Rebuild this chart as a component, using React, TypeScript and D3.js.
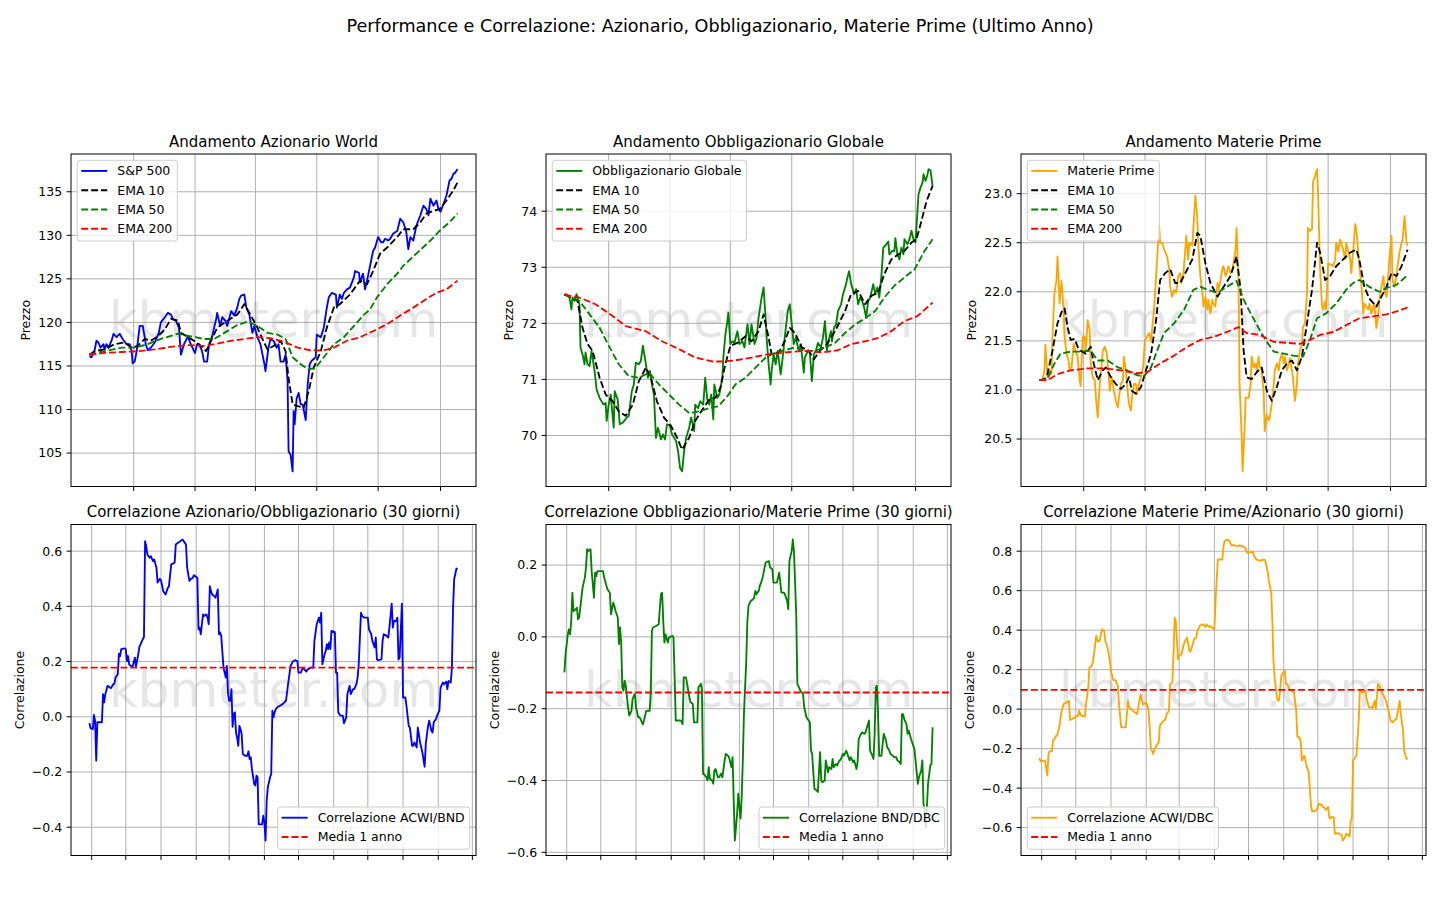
import * as d3 from "d3";

const FONT = "'DejaVu Sans', sans-serif";
const parse = d3.timeParse("%Y-%m-%d");

const PRICE_START = "2023-09-18";
const CORR_START = "2023-10-30";

// [days since start, value]
const sp500: [number, number][] = [
  [0,116.1],[2,116.0],[5,116.7],[7,117.9],[9,117.7],[11,117.1],[14,117.5],[15,116.9],[17,117.5],[19,117.1],[22,117.9],[24,118.7],[27,118.3],[30,118.7],[33,118.1],[37,117.5],[40,117.5],[42,116.7],[43,115.3],[45,115.5],[47,116.7],[50,119.6],[53,119.6],[55,118.3],[56,117.5],[58,116.8],[61,117.1],[65,117.7],[69,118.8],[71,120.0],[75,120.6],[78,121.1],[81,120.9],[83,120.4],[86,120.2],[89,119.4],[91,116.3],[94,117.5],[98,118.4],[100,117.7],[104,116.7],[105,116.5],[107,117.5],[109,117.5],[112,116.7],[114,115.5],[117,115.5],[119,117.5],[122,118.4],[126,120.4],[127,121.1],[130,119.6],[132,120.6],[135,120.2],[137,119.6],[141,121.3],[144,120.8],[147,121.7],[149,122.7],[151,123.1],[154,123.2],[156,121.7],[159,120.9],[162,118.8],[164,119.6],[167,118.3],[170,117.5],[174,115.2],[175,114.4],[178,117.1],[180,118.1],[183,117.9],[186,117.1],[188,117.5],[190,115.5],[193,115.5],[195,116.3],[197,113.3],[198,105.2],[200,104.8],[202,102.9],[203,109.8],[204,108.3],[206,111.3],[208,111.9],[210,110.6],[212,110.6],[215,108.8],[217,112.9],[219,115.2],[221,115.6],[225,116.0],[226,118.6],[230,118.3],[233,119.4],[236,121.7],[238,122.9],[241,123.4],[245,123.2],[246,121.7],[249,123.2],[251,122.7],[253,123.4],[256,123.8],[259,124.0],[263,125.2],[264,125.9],[268,125.7],[269,124.6],[272,125.6],[274,123.8],[276,124.8],[279,126.5],[282,128.2],[284,128.6],[287,129.8],[290,129.2],[292,129.2],[294,129.6],[297,129.4],[299,129.6],[302,130.2],[306,130.5],[309,131.9],[312,131.5],[315,130.4],[317,128.4],[319,129.8],[322,129.4],[325,131.1],[329,132.3],[332,133.4],[335,133.0],[337,132.3],[339,134.2],[342,133.4],[345,134.0],[347,133.0],[349,132.7],[352,133.6],[355,134.6],[358,136.3],[360,136.5],[362,137.1],[363,137.1],[366,137.6],
];
const spEma10: [number, number][] = [
  [0,116.3],[5,116.7],[15,116.9],[25,117.5],[35,117.7],[42,117.1],[48,117.3],[55,118.1],[61,117.9],[68,118.4],[75,119.2],[81,120.4],[88,120.2],[91,118.8],[98,118.3],[104,117.9],[111,117.3],[116,116.7],[121,117.9],[127,119.4],[137,120.2],[147,120.9],[154,122.1],[160,120.9],[167,119.4],[172,118.1],[177,116.9],[183,117.3],[190,117.9],[195,116.7],[198,113.6],[202,110.6],[207,110.4],[213,110.2],[218,112.1],[223,114.8],[230,116.7],[236,119.4],[243,121.7],[249,122.1],[259,123.2],[269,124.8],[276,124.4],[282,125.9],[289,127.9],[296,128.6],[306,129.8],[312,130.7],[322,130.7],[329,131.5],[335,132.5],[342,132.8],[348,133.0],[355,134.0],[362,135.2],[366,136.1],
];
const spEma50: [number, number][] = [
  [0,116.3],[15,116.7],[32,117.1],[45,117.1],[58,117.5],[71,118.1],[88,118.7],[101,118.4],[114,118.1],[124,118.1],[137,119.0],[147,119.7],[157,120.1],[167,119.6],[177,118.8],[187,118.6],[195,118.1],[202,116.0],[210,115.2],[218,114.6],[225,114.8],[233,116.0],[243,117.5],[253,118.3],[263,119.6],[273,120.9],[279,121.5],[286,122.9],[296,124.4],[306,125.6],[312,126.5],[325,127.9],[339,129.4],[348,130.5],[358,131.5],[366,132.5],
];
const spEma200: [number, number][] = [
  [0,116.3],[15,116.5],[32,116.6],[48,116.7],[65,116.9],[81,117.2],[98,117.4],[114,117.3],[124,117.5],[141,117.9],[154,118.1],[167,118.3],[180,118.2],[193,117.8],[207,117.1],[220,116.8],[233,116.8],[243,117.1],[256,117.9],[269,118.3],[282,119.0],[296,119.8],[309,120.8],[322,121.7],[335,122.7],[345,123.4],[355,123.8],[366,124.8],
];

const bond: [number, number][] = [
  [0,72.51],[2,72.52],[5,72.46],[7,72.25],[8,72.46],[10,72.40],[12,72.52],[13,72.46],[15,72.34],[16,71.57],[18,71.45],[20,71.27],[21,71.48],[23,71.27],[25,71.24],[27,71.51],[30,71.15],[32,70.82],[35,70.67],[36,70.64],[39,70.55],[41,70.58],[42,70.26],[44,70.55],[46,70.73],[49,70.14],[50,70.79],[53,70.64],[55,70.20],[58,70.23],[62,70.32],[64,70.35],[67,70.79],[69,70.91],[71,71.30],[74,71.27],[76,71.33],[78,71.60],[80,71.39],[83,71.03],[85,71.15],[87,70.91],[89,70.73],[91,69.96],[93,70.14],[96,69.93],[98,70.02],[100,69.93],[102,70.20],[105,70.17],[107,70.02],[109,69.96],[111,69.90],[113,69.72],[115,69.42],[117,69.36],[119,69.72],[121,69.96],[124,70.14],[126,70.32],[129,70.08],[130,70.55],[133,70.49],[135,70.61],[138,70.55],[140,71.03],[142,70.64],[144,70.55],[146,70.73],[148,70.29],[149,70.91],[152,70.67],[154,70.73],[157,71.03],[158,71.39],[160,71.80],[162,72.04],[163,72.19],[165,71.63],[167,71.68],[169,71.65],[172,71.86],[174,71.63],[177,71.68],[179,71.57],[182,71.98],[184,71.63],[186,71.98],[189,71.63],[191,71.74],[193,72.10],[195,72.34],[196,72.46],[198,72.64],[200,72.10],[201,71.74],[203,71.27],[205,70.91],[206,71.15],[208,71.45],[210,71.27],[212,71.51],[215,71.09],[217,71.39],[219,71.74],[222,72.22],[224,72.34],[226,71.98],[228,71.63],[230,71.74],[233,71.51],[235,71.63],[238,71.12],[239,71.39],[242,71.51],[244,71.48],[246,70.97],[248,71.45],[250,71.51],[252,71.65],[255,71.57],[257,71.74],[259,72.04],[261,71.51],[262,71.65],[265,71.86],[266,71.68],[268,71.92],[270,71.98],[272,72.22],[275,72.34],[277,72.52],[280,72.70],[281,72.79],[283,72.93],[285,72.70],[288,72.52],[290,72.61],[292,72.34],[294,72.46],[296,72.40],[298,72.28],[300,72.10],[302,72.40],[304,72.46],[307,72.70],[309,72.52],[311,72.64],[313,72.46],[315,72.82],[317,73.35],[320,73.41],[322,73.46],[323,73.23],[326,73.29],[328,73.29],[329,73.52],[331,73.23],[333,73.14],[335,73.35],[337,73.23],[338,73.50],[341,73.41],[343,73.50],[345,73.65],[347,73.50],[349,73.44],[351,74.01],[352,74.30],[354,74.42],[356,74.51],[357,74.66],[359,74.54],[361,74.66],[362,74.75],[364,74.72],[366,74.45],
];
const bondEma10: [number, number][] = [
  [0,72.51],[8,72.46],[13,72.40],[18,71.92],[23,71.63],[28,71.51],[35,71.03],[41,70.73],[48,70.61],[54,70.43],[61,70.35],[68,70.55],[74,70.97],[81,71.21],[86,71.03],[92,70.61],[99,70.32],[106,70.17],[112,69.96],[117,69.75],[124,69.96],[130,70.26],[137,70.46],[144,70.64],[150,70.67],[155,70.85],[160,71.27],[165,71.60],[172,71.65],[180,71.77],[186,71.68],[193,71.86],[198,72.16],[203,71.74],[206,71.45],[213,71.48],[219,71.68],[224,71.92],[229,71.83],[236,71.57],[243,71.51],[248,71.36],[254,71.51],[261,71.63],[269,71.86],[279,72.22],[285,72.52],[292,72.58],[299,72.34],[305,72.49],[312,72.55],[318,72.88],[325,73.14],[332,73.23],[338,73.29],[345,73.44],[350,73.50],[355,73.83],[360,74.18],[366,74.45],
];
const bondEma50: [number, number][] = [
  [0,72.51],[15,72.40],[25,72.16],[35,71.92],[45,71.57],[54,71.27],[64,71.06],[74,71.03],[84,71.12],[94,70.91],[104,70.73],[114,70.55],[124,70.40],[134,70.43],[144,70.49],[153,70.52],[162,70.70],[170,70.91],[180,71.03],[190,71.21],[200,71.39],[210,71.48],[219,71.52],[229,71.57],[239,71.51],[249,71.51],[259,71.57],[269,71.65],[279,71.83],[289,71.98],[299,72.09],[309,72.22],[318,72.46],[328,72.67],[338,72.82],[348,72.96],[358,73.29],[366,73.50],
];
const bondEma200: [number, number][] = [
  [0,72.51],[15,72.46],[31,72.34],[48,72.13],[61,71.95],[81,71.86],[97,71.68],[114,71.54],[130,71.39],[147,71.32],[157,71.32],[170,71.34],[186,71.39],[203,71.45],[219,71.48],[239,71.51],[256,71.48],[272,71.52],[285,71.63],[299,71.68],[312,71.74],[325,71.86],[338,72.04],[351,72.13],[366,72.37],
];

const cmd: [number, number][] = [
  [0,21.10],[3,21.10],[5,21.20],[6,21.46],[8,21.13],[10,21.20],[12,21.16],[13,21.54],[15,21.99],[17,22.12],[18,22.36],[19,22.16],[20,21.88],[22,22.11],[24,21.82],[25,21.54],[27,21.37],[29,21.30],[30,21.20],[32,21.23],[34,21.47],[36,21.40],[38,21.34],[40,21.10],[41,21.04],[43,21.54],[45,21.54],[46,21.40],[48,21.71],[50,21.61],[51,21.27],[53,21.13],[55,21.10],[57,20.82],[58,20.72],[60,21.06],[62,21.27],[63,21.40],[65,21.44],[67,21.37],[69,21.13],[70,20.99],[72,21.13],[74,20.99],[76,20.89],[78,20.82],[79,20.92],[81,21.06],[83,21.10],[84,21.34],[86,21.20],[87,21.06],[89,20.86],[91,20.79],[92,20.92],[94,21.06],[96,21.06],[97,20.96],[99,21.06],[101,21.13],[103,21.23],[105,21.51],[107,21.54],[109,21.58],[111,21.49],[112,21.61],[114,21.82],[116,22.16],[117,22.33],[119,22.67],[120,22.50],[122,22.50],[124,22.43],[127,22.36],[129,22.23],[130,22.05],[132,21.95],[134,22.02],[136,21.99],[138,22.16],[140,22.19],[141,22.09],[143,22.16],[144,22.29],[146,22.57],[148,22.33],[149,22.50],[152,22.47],[153,22.64],[155,22.98],[157,22.74],[158,22.47],[160,22.16],[162,21.99],[163,21.85],[165,21.95],[167,21.82],[168,21.92],[170,21.78],[172,21.92],[173,21.88],[175,21.85],[177,22.09],[178,22.02],[180,22.12],[182,22.24],[183,22.26],[185,22.16],[188,22.26],[190,22.19],[192,22.23],[195,22.43],[196,22.65],[198,22.09],[199,21.06],[201,20.55],[202,20.17],[204,20.62],[205,20.92],[208,20.92],[210,21.06],[211,21.34],[213,21.23],[215,21.27],[216,21.20],[218,21.34],[219,21.23],[221,21.20],[223,20.96],[224,20.58],[226,20.75],[228,20.69],[229,20.72],[231,20.86],[233,21.06],[234,21.20],[236,21.27],[238,21.20],[239,21.30],[241,21.37],[243,21.27],[244,21.34],[246,21.20],[248,21.27],[249,21.32],[251,21.20],[252,21.13],[254,20.89],[256,21.06],[257,21.27],[259,21.40],[261,21.47],[262,21.64],[264,21.68],[266,21.99],[267,22.65],[269,22.62],[271,22.64],[272,23.12],[274,23.18],[276,23.25],[277,23.01],[279,22.23],[281,21.85],[282,21.82],[284,21.90],[285,21.82],[287,22.29],[289,22.28],[290,22.28],[292,22.26],[294,22.33],[295,22.50],[297,22.41],[299,22.53],[300,22.50],[302,22.43],[304,22.33],[305,22.50],[307,22.41],[309,22.33],[310,22.19],[312,22.43],[314,22.69],[315,22.64],[317,22.40],[318,22.26],[320,22.09],[322,21.78],[323,21.88],[325,21.85],[327,21.82],[328,21.88],[330,21.78],[332,21.85],[333,21.88],[335,21.63],[337,21.78],[338,21.92],[340,22.05],[342,22.16],[343,22.02],[345,21.95],[347,22.19],[348,22.36],[350,22.57],[351,22.12],[353,22.05],[355,22.16],[356,22.26],[358,22.40],[360,22.50],[361,22.53],[363,22.77],[365,22.50],[366,22.47],
];
const cmdEma10: [number, number][] = [
  [0,21.10],[5,21.11],[8,21.16],[13,21.40],[18,21.68],[23,21.82],[25,21.83],[28,21.64],[31,21.51],[35,21.52],[38,21.44],[41,21.40],[46,21.37],[51,21.44],[54,21.27],[58,21.10],[63,21.20],[66,21.23],[71,21.13],[76,21.06],[81,21.01],[86,21.06],[89,21.13],[92,20.99],[96,20.96],[101,21.03],[106,21.20],[111,21.37],[116,21.71],[120,22.12],[125,22.19],[130,22.23],[135,22.09],[140,22.09],[147,22.23],[152,22.33],[157,22.60],[160,22.57],[165,22.29],[170,22.09],[177,21.95],[183,22.05],[190,22.16],[196,22.36],[200,22.02],[203,21.40],[206,21.13],[211,21.11],[216,21.18],[221,21.23],[226,20.99],[231,20.89],[236,21.03],[241,21.20],[246,21.27],[251,21.30],[256,21.20],[261,21.34],[266,21.68],[271,22.02],[276,22.50],[279,22.40],[284,22.12],[289,22.16],[295,22.26],[302,22.33],[309,22.40],[315,22.43],[318,22.33],[323,22.05],[328,21.93],[335,21.85],[340,21.95],[345,22.05],[350,22.19],[355,22.16],[360,22.26],[366,22.43],
];
const cmdEma50: [number, number][] = [
  [0,21.10],[8,21.11],[15,21.27],[21,21.37],[31,21.39],[41,21.39],[51,21.40],[58,21.30],[68,21.30],[78,21.23],[87,21.20],[97,21.15],[104,21.14],[111,21.23],[117,21.40],[124,21.58],[134,21.68],[144,21.82],[153,22.02],[160,22.05],[167,22.02],[177,21.99],[186,22.05],[196,22.11],[203,21.92],[210,21.78],[219,21.61],[226,21.49],[233,21.39],[243,21.37],[252,21.35],[262,21.34],[269,21.51],[276,21.73],[285,21.78],[295,21.88],[305,22.02],[312,22.09],[318,22.12],[328,22.05],[338,22.00],[345,22.04],[355,22.07],[366,22.17],
];
const cmdEma200: [number, number][] = [
  [0,21.10],[8,21.10],[18,21.16],[31,21.20],[48,21.22],[64,21.22],[81,21.20],[97,21.17],[107,21.18],[120,21.27],[134,21.35],[147,21.44],[160,21.51],[173,21.54],[186,21.59],[198,21.64],[206,21.58],[219,21.56],[233,21.49],[246,21.48],[259,21.47],[269,21.51],[279,21.56],[292,21.59],[305,21.66],[318,21.73],[332,21.75],[345,21.77],[355,21.80],[366,21.84],
];

// 30-day rolling correlations, [days since CORR_START, value]
const corrEqBond: [number, number][] = [
  [0,-0.023],[1,-0.041],[3,-0.045],[4,0.007],[5,-0.014],[6,-0.159],[7,-0.020],[9,-0.020],[11,-0.020],[12,0.082],[13,0.052],[14,0.082],[16,0.112],[18,0.106],[19,0.104],[21,0.118],[22,0.120],[23,0.142],[25,0.154],[26,0.229],[27,0.220],[28,0.245],[31,0.248],[32,0.245],[33,0.202],[34,0.220],[35,0.190],[37,0.182],[38,0.182],[40,0.214],[41,0.182],[43,0.227],[44,0.253],[46,0.272],[48,0.289],[49,0.636],[50,0.618],[51,0.588],[53,0.576],[54,0.582],[56,0.564],[57,0.570],[59,0.540],[60,0.486],[62,0.500],[63,0.494],[65,0.455],[66,0.449],[67,0.443],[69,0.467],[70,0.473],[72,0.552],[73,0.554],[75,0.558],[76,0.624],[78,0.630],[81,0.639],[82,0.642],[84,0.630],[85,0.624],[86,0.540],[88,0.492],[89,0.498],[91,0.504],[92,0.513],[95,0.504],[96,0.317],[97,0.323],[98,0.299],[100,0.371],[101,0.365],[103,0.371],[104,0.359],[105,0.335],[106,0.473],[107,0.455],[108,0.443],[110,0.437],[111,0.431],[113,0.461],[114,0.299],[115,0.305],[116,0.293],[118,0.178],[119,0.160],[120,0.142],[121,0.184],[122,0.082],[123,0.058],[124,0.058],[125,0.100],[126,-0.036],[127,0.010],[128,0.016],[129,-0.057],[130,-0.075],[131,-0.105],[132,-0.033],[133,-0.045],[134,-0.063],[135,-0.135],[137,-0.141],[139,-0.141],[140,-0.125],[141,-0.153],[142,-0.147],[143,-0.189],[145,-0.243],[146,-0.249],[147,-0.213],[148,-0.219],[149,-0.390],[150,-0.390],[152,-0.390],[153,-0.358],[154,-0.382],[155,-0.448],[156,-0.304],[157,-0.255],[159,-0.219],[160,-0.207],[161,0.022],[162,-0.002],[163,0.016],[164,0.028],[166,0.037],[168,0.040],[170,0.046],[173,0.058],[175,0.124],[176,0.154],[177,0.184],[179,0.200],[181,0.205],[183,0.202],[184,0.160],[186,0.160],[188,0.178],[189,0.172],[191,0.164],[192,0.172],[195,0.178],[197,0.178],[198,0.275],[200,0.335],[202,0.359],[203,0.341],[204,0.377],[205,0.190],[207,0.227],[208,0.239],[209,0.263],[210,0.245],[211,0.269],[212,0.245],[213,0.311],[216,0.307],[217,0.160],[218,0.160],[219,0.016],[221,0.004],[223,0.004],[224,-0.024],[226,-0.002],[227,0.082],[229,0.112],[230,0.082],[232,0.100],[233,0.100],[235,0.118],[236,0.142],[237,0.190],[239,0.377],[240,0.365],[242,0.359],[245,0.359],[246,0.317],[248,0.299],[249,0.275],[251,0.251],[252,0.287],[253,0.208],[254,0.205],[257,0.208],[258,0.275],[259,0.299],[261,0.295],[263,0.287],[264,0.323],[266,0.410],[267,0.323],[268,0.347],[270,0.347],[271,0.359],[272,0.208],[273,0.214],[275,0.410],[276,0.070],[278,0.070],[279,0.040],[281,-0.033],[282,-0.039],[284,-0.105],[285,-0.105],[286,-0.093],[288,-0.111],[289,-0.039],[291,-0.093],[293,-0.129],[295,-0.181],[296,-0.099],[298,-0.033],[299,-0.014],[301,-0.051],[302,-0.057],[303,-0.020],[305,-0.008],[306,0.004],[308,0.022],[309,0.106],[311,0.124],[312,0.118],[314,0.127],[315,0.100],[316,0.130],[318,0.124],[319,0.178],[320,0.395],[321,0.498],[323,0.537],[324,0.534],
];
const corrBondCmd: [number, number][] = [
  [0,-0.099],[1,-0.048],[3,0.007],[4,0.021],[5,0.007],[6,0.044],[7,0.123],[8,0.072],[10,0.077],[11,0.081],[12,0.049],[13,0.054],[15,0.109],[16,0.137],[18,0.165],[19,0.193],[20,0.244],[21,0.239],[23,0.244],[24,0.183],[26,0.109],[27,0.179],[28,0.169],[29,0.183],[32,0.183],[34,0.183],[35,0.165],[37,0.142],[38,0.132],[40,0.123],[41,0.063],[43,0.095],[44,0.086],[45,0.072],[47,0.054],[48,-0.020],[49,0.026],[50,-0.020],[51,-0.141],[52,-0.150],[53,-0.122],[54,-0.136],[56,-0.196],[57,-0.219],[59,-0.206],[60,-0.173],[62,-0.159],[63,-0.196],[65,-0.224],[66,-0.224],[67,-0.229],[69,-0.244],[70,-0.233],[72,-0.206],[73,-0.206],[75,-0.206],[76,-0.159],[77,0.017],[78,0.026],[81,0.031],[83,0.035],[84,0.081],[85,0.119],[86,0.123],[87,0.044],[88,-0.016],[89,0.007],[91,-0.016],[92,-0.002],[95,0.003],[96,-0.002],[97,-0.113],[98,-0.233],[100,-0.233],[102,-0.233],[103,-0.235],[104,-0.243],[105,-0.113],[107,-0.113],[108,-0.131],[110,-0.169],[111,-0.182],[113,-0.187],[114,-0.238],[116,-0.238],[117,-0.238],[118,-0.141],[120,-0.131],[121,-0.141],[122,-0.381],[123,-0.383],[125,-0.391],[126,-0.400],[127,-0.363],[128,-0.395],[130,-0.400],[131,-0.409],[132,-0.372],[133,-0.368],[135,-0.391],[136,-0.391],[138,-0.381],[139,-0.391],[141,-0.344],[142,-0.326],[144,-0.331],[145,-0.337],[147,-0.363],[148,-0.335],[149,-0.456],[150,-0.567],[151,-0.530],[152,-0.493],[153,-0.437],[155,-0.506],[156,-0.446],[157,-0.344],[158,-0.215],[160,-0.067],[161,0.044],[162,0.086],[164,0.100],[166,0.105],[167,0.109],[168,0.128],[169,0.119],[171,0.128],[172,0.142],[174,0.160],[175,0.174],[177,0.206],[178,0.209],[180,0.211],[181,0.193],[183,0.188],[184,0.151],[186,0.151],[187,0.151],[189,0.179],[190,0.151],[191,0.123],[193,0.123],[194,0.119],[196,0.100],[197,0.077],[198,0.211],[200,0.239],[201,0.271],[202,0.239],[204,0.063],[205,-0.131],[207,-0.145],[208,-0.152],[210,-0.159],[211,-0.196],[213,-0.224],[214,-0.229],[216,-0.238],[217,-0.317],[218,-0.326],[220,-0.423],[222,-0.428],[223,-0.432],[225,-0.321],[226,-0.400],[227,-0.405],[229,-0.400],[230,-0.344],[232,-0.377],[233,-0.363],[235,-0.368],[236,-0.340],[237,-0.363],[239,-0.354],[240,-0.358],[242,-0.344],[243,-0.343],[245,-0.326],[246,-0.331],[248,-0.317],[249,-0.326],[251,-0.344],[252,-0.335],[254,-0.349],[255,-0.344],[257,-0.368],[258,-0.349],[259,-0.284],[261,-0.270],[262,-0.266],[264,-0.270],[265,-0.266],[267,-0.244],[268,-0.233],[269,-0.317],[271,-0.331],[272,-0.340],[273,-0.270],[274,-0.141],[275,-0.136],[276,-0.215],[277,-0.331],[278,-0.331],[279,-0.331],[281,-0.270],[283,-0.289],[284,-0.307],[286,-0.317],[287,-0.326],[289,-0.331],[290,-0.335],[292,-0.335],[293,-0.344],[295,-0.349],[296,-0.354],[297,-0.215],[298,-0.215],[299,-0.229],[301,-0.243],[302,-0.270],[303,-0.261],[305,-0.284],[306,-0.294],[308,-0.312],[309,-0.344],[311,-0.409],[312,-0.391],[314,-0.372],[315,-0.344],[316,-0.465],[317,-0.483],[318,-0.530],[319,-0.474],[320,-0.409],[322,-0.358],[323,-0.354],[324,-0.252],
];
const corrCmdEq: [number, number][] = [
  [0,-0.247],[1,-0.264],[3,-0.261],[5,-0.264],[7,-0.336],[8,-0.227],[9,-0.213],[11,-0.213],[12,-0.160],[13,-0.151],[15,-0.134],[16,-0.126],[18,-0.075],[19,-0.025],[21,0.022],[22,0.029],[24,0.034],[26,0.042],[27,-0.055],[29,-0.050],[31,-0.042],[34,-0.033],[35,-0.008],[36,-0.025],[37,-0.033],[40,-0.038],[41,0.026],[43,0.110],[44,0.211],[46,0.219],[47,0.236],[48,0.278],[50,0.371],[51,0.345],[53,0.345],[55,0.404],[57,0.396],[58,0.345],[60,0.312],[62,0.244],[63,0.194],[65,0.147],[67,0.147],[69,0.118],[70,0.026],[72,-0.092],[74,-0.092],[76,-0.092],[78,0.042],[79,0.009],[81,0.000],[84,-0.017],[86,-0.025],[88,0.042],[89,0.076],[91,0.026],[92,0.026],[94,0.034],[96,0.000],[97,-0.092],[98,-0.193],[100,-0.227],[101,-0.210],[103,-0.185],[105,-0.168],[106,-0.084],[108,-0.067],[111,-0.050],[112,-0.025],[114,-0.008],[115,0.127],[116,0.130],[117,0.135],[118,0.278],[119,0.463],[120,0.446],[122,0.253],[123,0.270],[125,0.278],[127,0.329],[129,0.354],[130,0.362],[132,0.295],[133,0.292],[135,0.329],[136,0.354],[138,0.362],[139,0.396],[141,0.421],[142,0.426],[144,0.430],[146,0.416],[147,0.430],[149,0.416],[150,0.421],[152,0.413],[154,0.404],[155,0.547],[157,0.758],[159,0.758],[161,0.758],[162,0.825],[163,0.851],[165,0.859],[167,0.854],[169,0.830],[172,0.830],[174,0.825],[176,0.830],[179,0.825],[181,0.817],[183,0.792],[186,0.797],[188,0.795],[189,0.775],[191,0.758],[193,0.753],[195,0.753],[198,0.758],[199,0.749],[201,0.691],[202,0.648],[204,0.590],[205,0.446],[206,0.244],[207,0.160],[208,0.110],[209,0.059],[210,0.042],[211,0.046],[213,0.174],[214,0.180],[216,0.194],[217,0.127],[218,0.127],[220,0.101],[222,0.093],[224,0.085],[226,-0.008],[227,-0.139],[229,-0.143],[230,-0.168],[231,-0.261],[233,-0.236],[234,-0.252],[235,-0.286],[237,-0.320],[239,-0.488],[240,-0.517],[242,-0.517],[244,-0.510],[246,-0.479],[248,-0.483],[249,-0.493],[251,-0.500],[252,-0.510],[254,-0.496],[255,-0.547],[256,-0.555],[257,-0.547],[259,-0.547],[260,-0.631],[262,-0.628],[264,-0.631],[266,-0.639],[267,-0.665],[269,-0.648],[270,-0.631],[272,-0.639],[273,-0.644],[274,-0.564],[275,-0.555],[276,-0.261],[278,-0.244],[279,-0.236],[281,-0.059],[282,0.093],[284,0.085],[285,0.085],[287,0.093],[288,0.051],[290,0.009],[292,0.009],[293,0.005],[295,0.042],[296,0.000],[298,0.127],[299,0.118],[301,0.093],[302,0.076],[303,0.068],[305,0.042],[306,0.017],[308,-0.025],[309,-0.059],[311,-0.067],[312,-0.059],[314,-0.050],[315,-0.025],[317,0.042],[318,-0.025],[320,-0.109],[321,-0.210],[323,-0.252],[324,-0.247],
];

const meanEqBond = 0.178;
const meanBondCmd = -0.155;
const meanCmdEq = 0.098;

const priceTicksX = ["2023-11-01", "2024-01-01", "2024-03-01", "2024-05-01", "2024-07-01", "2024-09-01"];
const corrTicksX = ["2023-11-01", "2023-12-01", "2024-01-01", "2024-02-01", "2024-03-01", "2024-04-01", "2024-05-01", "2024-06-01", "2024-07-01", "2024-08-01", "2024-09-01", "2024-10-01"];

const spTicks = [105, 110, 115, 120, 125, 130, 135];
const bondTicks = [70, 71, 72, 73, 74];
const cmdTicks = [20.5, 21, 21.5, 22, 22.5, 23];
const corr1Ticks = [-0.4, -0.2, 0, 0.2, 0.4, 0.6];
const corr2Ticks = [-0.6, -0.4, -0.2, 0, 0.2];
const corr3Ticks = [-0.6, -0.4, -0.2, 0, 0.2, 0.4, 0.6, 0.8];

const FS = 12.5;
const DASH = "6.9,3";

let ctx: CanvasRenderingContext2D | null = null;
const textWidth = (s: string, size: number) => {
  if (!ctx) ctx = document.createElement("canvas").getContext("2d");
  if (!ctx) return s.length * size * 0.6;
  ctx.font = `${size}px "DejaVu Sans"`;
  return ctx.measureText(s).width;
};

type Line = { data: [number, number][]; color: string; dashed?: boolean; label: string };

type PanelProps = {
  left: number;
  top: number;
  width: number;
  height: number;
  start: string;
  lines: Line[];
  hline?: number;
  title: string;
  ylabel: string;
  yTicks: number[];
  yFmt: (v: number) => string;
  xTicks: string[];
  legendAt: "ul" | "lr" | "ll";
};

const Panel = ({ left, top, width, height, start, lines, hline, title, ylabel, yTicks, yFmt, xTicks, legendAt }: PanelProps) => {
  const t0 = parse(start)!;
  const series = lines.map((l) => ({
    ...l,
    pts: l.data.map(([d, v]) => [d3.timeDay.offset(t0, d), v] as [Date, number]),
  }));
  const dates = series.flatMap((s) => s.pts.map((p) => +p[0]));
  const vals = series.flatMap((s) => s.pts.map((p) => p[1]));
  const [d0, d1] = d3.extent(dates) as [number, number];
  const dp = (d1 - d0) * 0.05;
  const x = d3.scaleTime().domain([new Date(d0 - dp), new Date(d1 + dp)]).range([0, width]);
  const [v0, v1] = d3.extent(vals) as [number, number];
  const vp = (v1 - v0) * 0.05;
  const y = d3.scaleLinear().domain([v0 - vp, v1 + vp]).range([height, 0]);
  const line = d3.line<[Date, number]>().x((p) => x(p[0])).y((p) => y(p[1]));
  const xt = xTicks.map((s) => parse(s)!);

  // legend
  const items = [
    ...lines.map((l) => ({ label: l.label, color: l.color, dashed: !!l.dashed })),
    ...(hline !== undefined ? [{ label: "Media 1 anno", color: "red", dashed: true }] : []),
  ];
  const rowH = 13;
  const gap = 6.25;
  const pad = 5;
  const tw = Math.max(...items.map((i) => textWidth(i.label, FS)));
  const bw = tw + 45;
  const bh = pad * 2 + items.length * rowH + (items.length - 1) * gap;
  const bx = legendAt === "lr" ? width - 6.25 - bw : 6.25;
  const by = legendAt === "ul" ? 6.25 : height - 6.25 - bh;

  const maxTick = Math.max(...yTicks.map((t) => textWidth(yFmt(t), FS)));
  const ylabX = -4.4 - 4.4 - maxTick - 5 - 3;

  const clipId = `clip-${left}-${top}`;

  return (
    <g transform={`translate(${left},${top})`} fontFamily={FONT}>
      <defs>
        <clipPath id={clipId}>
          <rect x={0} y={0} width={width} height={height} />
        </clipPath>
      </defs>
      <rect x={0} y={0} width={width} height={height} fill="white" />
      {/* grid */}
      <g stroke="#b0b0b0" strokeWidth={1}>
        {xt.map((d, i) => (
          <line key={`gx${i}`} x1={x(d)} x2={x(d)} y1={0} y2={height} />
        ))}
        {yTicks.map((t, i) => (
          <line key={`gy${i}`} x1={0} x2={width} y1={y(t)} y2={y(t)} />
        ))}
      </g>
      <text
        x={width / 2}
        y={height / 2 + 16.5}
        textAnchor="middle"
        fontSize={50}
        fill="#808080"
        fillOpacity={0.2}
      >
        kbmeter.com
      </text>
      <g clipPath={`url(#${clipId})`} fill="none">
        {series.map((s, i) => (
          <path
            key={i}
            d={line(s.pts) || ""}
            stroke={s.color}
            strokeWidth={1.85}
            strokeDasharray={s.dashed ? DASH : undefined}
            strokeLinejoin="round"
          />
        ))}
        {hline !== undefined && (
          <line x1={0} x2={width} y1={y(hline)} y2={y(hline)} stroke="red" strokeWidth={1.85} strokeDasharray={DASH} />
        )}
      </g>
      <rect x={0} y={0} width={width} height={height} fill="none" stroke="black" strokeWidth={1} />
      {/* ticks */}
      <g stroke="black" strokeWidth={1}>
        {xt.map((d, i) => (
          <line key={`tx${i}`} x1={x(d)} x2={x(d)} y1={height} y2={height + 4.4} />
        ))}
        {yTicks.map((t, i) => (
          <line key={`ty${i}`} x1={-4.4} x2={0} y1={y(t)} y2={y(t)} />
        ))}
      </g>
      <g fontSize={FS} fill="black" textAnchor="end">
        {yTicks.map((t, i) => (
          <text key={`yl${i}`} x={-8.8} y={y(t)} dy="0.35em">
            {yFmt(t)}
          </text>
        ))}
      </g>
      <text
        transform={`translate(${ylabX},${height / 2}) rotate(-90)`}
        textAnchor="middle"
        fontSize={FS}
      >
        {ylabel}
      </text>
      <text x={width / 2} y={-7.5} textAnchor="middle" fontSize={15}>
        {title}
      </text>
      {/* legend */}
      <g transform={`translate(${bx},${by})`}>
        <rect
          x={0}
          y={0}
          width={bw}
          height={bh}
          rx={3}
          fill="white"
          fillOpacity={0.8}
          stroke="#cccccc"
          strokeWidth={1}
        />
        {items.map((it, i) => {
          const cy = pad + i * (rowH + gap) + rowH / 2 - 0.8;
          return (
            <g key={i}>
              <line
                x1={4}
                x2={30}
                y1={cy}
                y2={cy}
                stroke={it.color}
                strokeWidth={1.85}
                strokeDasharray={it.dashed ? DASH : undefined}
              />
              <text x={40} y={cy} dy="0.35em" fontSize={FS}>
                {it.label}
              </text>
            </g>
          );
        })}
      </g>
    </g>
  );
};

const fmtInt = (v: number) => d3.format("d")(v);
const fmt1 = (v: number) => d3.format(".1f")(v);

const LEFTS = [71, 546, 1021];
const W = 405;
const TOPS = [154, 524.5];
const H = [332.5, 331];

export default function App() {
  return (
    <svg
      width={1440}
      height={900}
      style={{ position: "absolute", left: 0, top: 0, background: "white" }}
      fontFamily={FONT}
    >
      <rect width={1440} height={900} fill="white" />
      <text x={720} y={31.5} textAnchor="middle" fontSize={17.6}>
        Performance e Correlazione: Azionario, Obbligazionario, Materie Prime (Ultimo Anno)
      </text>
      <Panel
        left={LEFTS[0]}
        top={TOPS[0]}
        width={W}
        height={H[0]}
        start={PRICE_START}
        title="Andamento Azionario World"
        ylabel="Prezzo"
        yTicks={spTicks}
        yFmt={fmtInt}
        xTicks={priceTicksX}
        legendAt="ul"
        lines={[
          { data: sp500, color: "blue", label: "S&P 500" },
          { data: spEma10, color: "black", dashed: true, label: "EMA 10" },
          { data: spEma50, color: "green", dashed: true, label: "EMA 50" },
          { data: spEma200, color: "red", dashed: true, label: "EMA 200" },
        ]}
      />
      <Panel
        left={LEFTS[1]}
        top={TOPS[0]}
        width={W}
        height={H[0]}
        start={PRICE_START}
        title="Andamento Obbligazionario Globale"
        ylabel="Prezzo"
        yTicks={bondTicks}
        yFmt={fmtInt}
        xTicks={priceTicksX}
        legendAt="ul"
        lines={[
          { data: bond, color: "green", label: "Obbligazionario Globale" },
          { data: bondEma10, color: "black", dashed: true, label: "EMA 10" },
          { data: bondEma50, color: "green", dashed: true, label: "EMA 50" },
          { data: bondEma200, color: "red", dashed: true, label: "EMA 200" },
        ]}
      />
      <Panel
        left={LEFTS[2]}
        top={TOPS[0]}
        width={W}
        height={H[0]}
        start={PRICE_START}
        title="Andamento Materie Prime"
        ylabel="Prezzo"
        yTicks={cmdTicks}
        yFmt={fmt1}
        xTicks={priceTicksX}
        legendAt="ul"
        lines={[
          { data: cmd, color: "orange", label: "Materie Prime" },
          { data: cmdEma10, color: "black", dashed: true, label: "EMA 10" },
          { data: cmdEma50, color: "green", dashed: true, label: "EMA 50" },
          { data: cmdEma200, color: "red", dashed: true, label: "EMA 200" },
        ]}
      />
      <Panel
        left={LEFTS[0]}
        top={TOPS[1]}
        width={W}
        height={H[1]}
        start={CORR_START}
        title="Correlazione Azionario/Obbligazionario (30 giorni)"
        ylabel="Correlazione"
        yTicks={corr1Ticks}
        yFmt={fmt1}
        xTicks={corrTicksX}
        legendAt="lr"
        hline={meanEqBond}
        lines={[{ data: corrEqBond, color: "blue", label: "Correlazione ACWI/BND" }]}
      />
      <Panel
        left={LEFTS[1]}
        top={TOPS[1]}
        width={W}
        height={H[1]}
        start={CORR_START}
        title="Correlazione Obbligazionario/Materie Prime (30 giorni)"
        ylabel="Correlazione"
        yTicks={corr2Ticks}
        yFmt={fmt1}
        xTicks={corrTicksX}
        legendAt="lr"
        hline={meanBondCmd}
        lines={[{ data: corrBondCmd, color: "green", label: "Correlazione BND/DBC" }]}
      />
      <Panel
        left={LEFTS[2]}
        top={TOPS[1]}
        width={W}
        height={H[1]}
        start={CORR_START}
        title="Correlazione Materie Prime/Azionario (30 giorni)"
        ylabel="Correlazione"
        yTicks={corr3Ticks}
        yFmt={fmt1}
        xTicks={corrTicksX}
        legendAt="ll"
        hline={meanCmdEq}
        lines={[{ data: corrCmdEq, color: "orange", label: "Correlazione ACWI/DBC" }]}
      />
    </svg>
  );
}
